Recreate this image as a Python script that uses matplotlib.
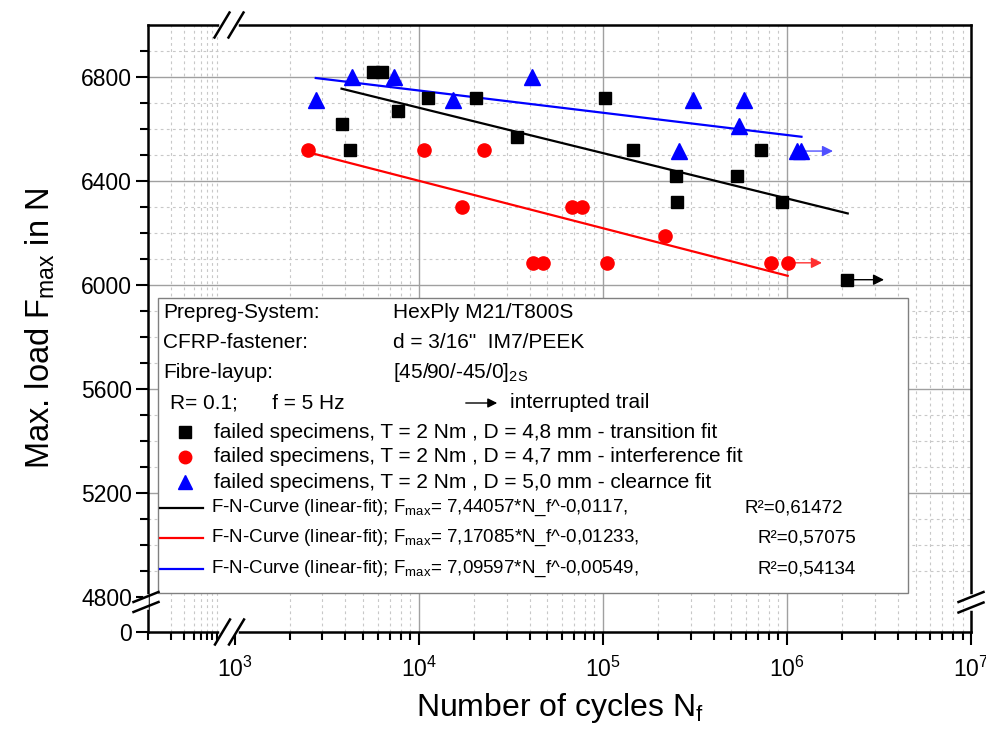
import numpy as np
import matplotlib
matplotlib.use('Agg')
import matplotlib.pyplot as plt
from matplotlib.lines import Line2D
from matplotlib.patches import Rectangle, FancyArrowPatch
from matplotlib.ticker import FixedLocator, FixedFormatter

plt.rcParams['font.family'] = ['Liberation Sans', 'DejaVu Sans']
plt.rcParams['mathtext.default'] = 'regular'

# failed specimens (cycles, max load in N)
n_sq = [3810, 4220, 5620, 6300, 7690, 11200, 20400, 34100, 102600, 145000,
        249000, 252000, 534000, 722000, 940000, 2120000]
f_sq = [6620, 6520, 6820, 6820, 6670, 6720, 6720, 6570, 6720, 6520,
        6420, 6320, 6420, 6520, 6320, 6020]

n_ci = [2520, 10650, 17100, 22500, 41700, 47200, 67900, 76900, 106000,
        217000, 819000, 1010000]
f_ci = [6520, 6520, 6300, 6520, 6085, 6085, 6300, 6300, 6085,
        6190, 6085, 6085]

n_tr = [2760, 4320, 7310, 15300, 41100, 259000, 308000, 548000, 583000,
        1130000, 1200000]
f_tr = [6710, 6800, 6800, 6710, 6800, 6515, 6710, 6610, 6710,
        6515, 6515]

# linear fits (end points)
fit_n_sq = [3810, 2140000]
fit_f_sq = [6755, 6275]
fit_n_ci = [2520, 1010000]
fit_f_ci = [6510, 6035]
fit_n_tr = [2760, 1200000]
fit_f_tr = [6796, 6570]

# interrupted trails (run-outs) and where their arrows end
run_n = [2120000, 1010000, 1200000]
run_f = [6020, 6085, 6515]
run_to = [3370000, 1550000, 1780000]

x_major = [1e3, 1e4, 1e5, 1e6, 1e7]
x_labels = ['$10^{3}$', '$10^{4}$', '$10^{5}$', '$10^{6}$', '$10^{7}$']
y_major = [0, 4800, 5200, 5600, 6000, 6400, 6800]
y_labels = ['0', '4800', '5200', '5600', '6000', '6400', '6800']

W, H = 987, 738


def fx(px):
    return px / W


def fy(py):
    return 1 - py / H


# broken axes as piecewise scales
XU = [-10, 2, 2.899, 7, 20]
XP = [-907, 0, 68, 823, 3215]
YV = [-10000, 0, 4780, 7000, 20000]
YP = [-62.8, 0, 30, 607, 3987]


def fwd_x(x):
    return np.interp(np.log10(np.clip(x, 1e-9, None)), XU, XP)


def inv_x(p):
    return 10 ** np.interp(p, XP, XU)


def fwd_y(v):
    return np.interp(v, YV, YP)


def inv_y(p):
    return np.interp(p, YP, YV)


fig = plt.figure(figsize=(9.87, 7.38), dpi=100)
ax = fig.add_axes([fx(148), fy(632), fx(971) - fx(148), fy(25) - fy(632)])
ax.set_xscale('function', functions=(fwd_x, inv_x))
ax.set_yscale('function', functions=(fwd_y, inv_y))
ax.set_xlim(100, 1e7)
ax.set_ylim(0, 7000)

x_minor = [m * 10 ** k for k in range(2, 7) for m in range(1, 10)
           if m * 10 ** k not in x_major and m * 10 ** k != 900]
y_minor = [v for v in range(4900, 7000, 100) if v not in y_major]

ax.xaxis.set_major_locator(FixedLocator(x_major))
ax.xaxis.set_major_formatter(FixedFormatter(x_labels))
ax.xaxis.set_minor_locator(FixedLocator(x_minor))
ax.xaxis.set_minor_formatter(FixedFormatter([''] * len(x_minor)))
ax.yaxis.set_major_locator(FixedLocator(y_major))
ax.yaxis.set_major_formatter(FixedFormatter(y_labels))
ax.yaxis.set_minor_locator(FixedLocator(y_minor))
ax.yaxis.set_minor_formatter(FixedFormatter([''] * len(y_minor)))

ax.tick_params(which='major', direction='out', length=9, width=1.5,
               labelsize=16.5, colors='black')
ax.tick_params(axis='y', which='major', pad=2.5)
ax.tick_params(axis='x', which='major', pad=9)
ax.tick_params(which='minor', direction='out', length=5.5, width=1.5)
for s in ax.spines.values():
    s.set_linewidth(1.8)

# grid
for v in x_minor:
    if v > 100:
        ax.axvline(v, color='#c8c8c8', lw=0.8, ls=(0, (2.5, 3)), zorder=0.5)
for v in [1e4, 1e5, 1e6]:
    ax.axvline(v, color='#a0a0a0', lw=1.0, zorder=0.6)
for v in y_minor:
    ax.axhline(v, color='#c8c8c8', lw=0.8, ls=(0, (2.5, 3)), zorder=0.5)
for v in y_major[2:]:
    ax.axhline(v, color='#a0a0a0', lw=1.0, zorder=0.6)

# fits
ax.plot(fit_n_sq, fit_f_sq, color='black', lw=1.6, zorder=2)
ax.plot(fit_n_ci, fit_f_ci, color='red', lw=1.6, zorder=2)
ax.plot(fit_n_tr, fit_f_tr, color='blue', lw=1.6, zorder=2)

# run-out arrows
for n0, f0, n1, c in zip(run_n, run_f, run_to, ['black', '#ff3030', '#5050ff']):
    ax.annotate('', xy=(n1, f0), xytext=(n0, f0), zorder=2,
                arrowprops=dict(arrowstyle='-|>', color=c, lw=1.0,
                                mutation_scale=16, shrinkA=0, shrinkB=0))

ax.plot(n_sq, f_sq, 's', color='black', ms=9, zorder=3)
ax.plot(n_ci, f_ci, 'o', color='red', ms=9.5, zorder=3)
ax.plot(n_tr, f_tr, '^', color='blue', ms=11, zorder=3)

ax.set_xlabel('Number of cycles N$_{f}$', fontsize=23, labelpad=6)
ax.set_ylabel('Max. load F$_{max}$ in N', fontsize=23.5, labelpad=17)


# axis break marks
def slash_pair(c1, c2, dx, dy):
    fig.add_artist(Line2D([fx(c1[0]), fx(c2[0])], [fy(c1[1]), fy(c2[1])],
                          color='white', lw=4, zorder=8))
    for cx, cy in (c1, c2):
        fig.add_artist(Line2D([fx(cx - dx), fx(cx + dx)],
                              [fy(cy + dy), fy(cy - dy)],
                              color='black', lw=1.8, zorder=9))


slash_pair((222, 25), (236, 25), 7.5, 12.5)
slash_pair((222.5, 632), (236.5, 632), 7.5, 12.5)
slash_pair((146, 597), (146, 607), 12.5, 5)
slash_pair((971, 597), (971, 607.5), 12.5, 5)

# legend box
fig.add_artist(Rectangle((fx(158), fy(593)), fx(908) - fx(158), fy(298) - fy(593),
                         transform=fig.transFigure, facecolor='white',
                         edgecolor='#808080', lw=1.0, zorder=5))
hdr = [('Prepreg-System:', 'HexPly M21/T800S', 313),
       ('CFRP-fastener:', 'd = 3/16"  IM7/PEEK', 343),
       ('Fibre-layup:', '[45/90/-45/0]$_{2S}$', 372)]
for a, b, y in hdr:
    fig.text(fx(163), fy(y), a, fontsize=15, va='center', zorder=6)
    fig.text(fx(393), fy(y), b, fontsize=15, va='center', zorder=6)
fig.text(fx(170), fy(403), 'R= 0.1;      f = 5 Hz', fontsize=15, va='center', zorder=6)
fig.add_artist(FancyArrowPatch((fx(463), fy(403)), (fx(500), fy(403)),
                               transform=fig.transFigure, arrowstyle='-|>',
                               mutation_scale=14, color='black', lw=1.0, zorder=6))
fig.text(fx(510), fy(403), 'interrupted trail', fontsize=15, va='center', zorder=6)

mk_rows = [('s', 'black', 8, 'failed specimens, T = 2 Nm , D = 4,8 mm - transition fit', 432),
           ('o', 'red', 9, 'failed specimens, T = 2 Nm , D = 4,7 mm - interference fit', 457),
           ('^', 'blue', 10, 'failed specimens, T = 2 Nm , D = 5,0 mm - clearnce fit', 482)]
for m, c, s, t, y in mk_rows:
    fig.add_artist(Line2D([fx(185)], [fy(y)], marker=m, color=c, ms=s, ls='none', zorder=6))
    fig.text(fx(214), fy(y), t, fontsize=15, va='center', zorder=6)

ln_rows = [('black', 'F-N-Curve (linear-fit); F$_{max}$= 7,44057*N_f^-0,0117,', 'R²=0,61472', 745, 508),
           ('red', 'F-N-Curve (linear-fit); F$_{max}$= 7,17085*N_f^-0,01233,', 'R²=0,57075', 758, 538),
           ('blue', 'F-N-Curve (linear-fit); F$_{max}$= 7,09597*N_f^-0,00549,', 'R²=0,54134', 758, 569)]
for c, t, r, rx, y in ln_rows:
    fig.add_artist(Line2D([fx(160), fx(203)], [fy(y), fy(y)], color=c, lw=1.6, zorder=6))
    fig.text(fx(211), fy(y), t, fontsize=13.5, va='center', zorder=6)
    fig.text(fx(rx), fy(y), r, fontsize=13.5, va='center', zorder=6)

fig.savefig('out.png', dpi=100)
